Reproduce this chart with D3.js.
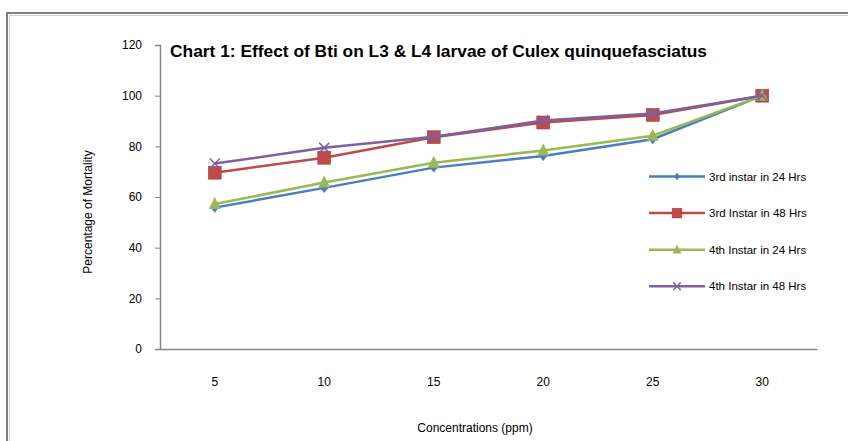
<!DOCTYPE html>
<html><head><meta charset="utf-8">
<script src="https://cdn.jsdelivr.net/npm/d3@7"></script>
<style>body{margin:0;background:#fff}svg{display:block}text{font-family:"Liberation Sans",Arial,sans-serif}</style>
</head><body><svg id="c" width="848" height="441"></svg>
<script>
const categories = ["5","10","15","20","25","30"];
const yTicks = [0,20,40,60,80,100,120];
const s3_24 = [55.8,63.6,71.6,76.2,82.8,100];
const s3_48 = [69.6,75.5,83.6,89.4,92.4,100];
const s4_24 = [57.2,65.7,73.5,78.4,84.2,100];
const s4_48 = [73.2,79.4,83.8,90.2,93.0,100];
const seriesNames = ["3rd instar in 24 Hrs","3rd Instar in 48 Hrs","4th Instar in 24 Hrs","4th Instar in 48 Hrs"];
const seriesVals = [s3_24,s3_48,s4_24,s4_48];
const colors = ["#4A7EBB","#BE4B48","#98B954","#7D60A0"];
const shapes = ["diamond","square","triangle","x"];

const svg = d3.select("#c");
// frame
svg.append("rect").attr("x",7).attr("y",13).attr("width",900).attr("height",500)
  .attr("fill","none").attr("stroke","#7f7f7f").attr("stroke-width",2);
svg.append("rect").attr("x",9.5).attr("y",15.5).attr("width",900).attr("height",500)
  .attr("fill","none").attr("stroke","#d0d0d0").attr("stroke-width",1);

const x = d3.scaleBand().domain(categories).range([160,817]);
const y = d3.scaleLinear().domain([0,120]).range([349,45]);

const gy = svg.append("g").attr("transform","translate(160,0)")
  .call(d3.axisLeft(y).tickValues(yTicks).tickSize(5).tickPadding(13));
gy.select(".domain").attr("stroke","#868686").attr("stroke-width",1.5);
gy.selectAll(".tick line").attr("stroke","#868686");
gy.selectAll("text").attr("font-size",12).attr("fill","#000").attr("font-family","Liberation Sans, Arial");

const gx = svg.append("g").attr("transform","translate(0,349)")
  .call(d3.axisBottom(x).tickSize(0).tickPadding(28));
gx.select(".domain").attr("stroke","#868686").attr("stroke-width",1.5);
gx.selectAll("text").attr("font-size",12).attr("fill","#000").attr("font-family","Liberation Sans, Arial");

function marker(g, shape, color, cx, cy, k){
  k = k||1;
  if(shape==="diamond"){
    g.append("path").attr("d",`M${cx},${cy-5*k}L${cx+4*k},${cy}L${cx},${cy+5*k}L${cx-4*k},${cy}Z`).attr("fill",color);
  } else if(shape==="square"){
    g.append("rect").attr("x",cx-6.5*k).attr("y",cy-6.5*k).attr("width",13*k).attr("height",13*k).attr("fill",color).attr("stroke","#a33c39").attr("stroke-width",0.5);
  } else if(shape==="triangle"){
    g.append("path").attr("d",`M${cx},${cy-7*k}L${cx+6*k},${cy+5*k}L${cx-6*k},${cy+5*k}Z`).attr("fill",color);
  } else {
    g.append("path").attr("d",`M${cx-5*k},${cy-5*k}L${cx+5*k},${cy+5*k}M${cx-5*k},${cy+5*k}L${cx+5*k},${cy-5*k}`).attr("stroke",color).attr("stroke-width",1.5);
  }
}

const line = d3.line().x((d,i)=>x(categories[i])+x.bandwidth()/2).y(d=>y(d));
seriesVals.forEach((vals,si)=>{
  const g = svg.append("g");
  g.append("path").datum(vals).attr("d",line).attr("fill","none").attr("stroke",colors[si]).attr("stroke-width",2.5);
  vals.forEach((v,i)=>marker(g,shapes[si],colors[si],x(categories[i])+x.bandwidth()/2,y(v)));
});

// legend
const ly0 = 176.5, lstep = 36.6;
seriesNames.forEach((n,i)=>{
  const g = svg.append("g");
  const yy = ly0 + i*lstep;
  g.append("line").attr("x1",649).attr("x2",705).attr("y1",yy).attr("y2",yy).attr("stroke",colors[i]).attr("stroke-width",2.5);
  marker(g,shapes[i],colors[i],677,yy,0.75);
  g.append("text").attr("x",709).attr("y",yy+4).attr("font-size",11.5).attr("fill","#000").text(n);
});

// title
svg.append("text").attr("x",170).attr("y",57).attr("font-size",17).attr("font-weight","bold")
  .attr("font-family","Liberation Sans Narrow, Arial Narrow, Liberation Sans, sans-serif")
  .attr("textLength",537).attr("lengthAdjust","spacingAndGlyphs")
  .text("Chart 1: Effect of Bti on L3 & L4 larvae of Culex quinquefasciatus");

svg.append("text").attr("x",475).attr("y",432).attr("text-anchor","middle").attr("font-size",12)
  .attr("fill","#000").text("Concentrations (ppm)");
svg.append("text").attr("transform","translate(92,212) rotate(-90)").attr("text-anchor","middle").attr("font-size",12)
  .attr("fill","#000").text("Percentage of Mortality");
</script></body></html>
